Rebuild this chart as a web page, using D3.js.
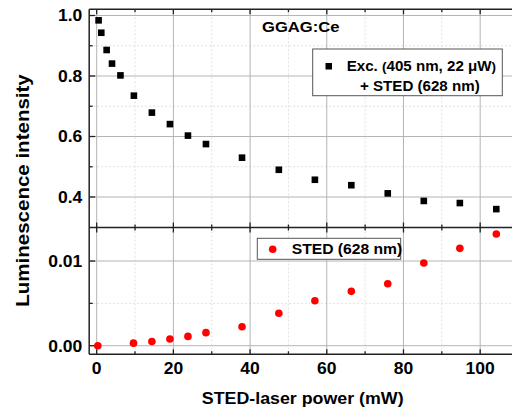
<!DOCTYPE html>
<html><head><meta charset="utf-8">
<script src="https://cdn.jsdelivr.net/npm/d3@7"></script>
<style>
body{margin:0;background:#fff;}
text{font-family:"Liberation Sans",Arial,sans-serif;font-weight:bold;fill:#000;}
</style></head>
<body><svg id="c" width="512" height="411"></svg>
<script>
const powerTop = [0.5, 1.2, 2.6, 4.0, 6.2, 9.7, 14.4, 19.1, 23.8, 28.5, 37.9, 47.5, 56.9, 66.4, 75.9, 85.3, 94.7, 104.2];
const lumTop = [0.984, 0.943, 0.886, 0.841, 0.802, 0.735, 0.679, 0.641, 0.603, 0.575, 0.530, 0.490, 0.457, 0.439, 0.412, 0.387, 0.380, 0.360];
const powerBot = [0.3, 9.6, 14.4, 19.1, 23.8, 28.5, 37.9, 47.5, 56.9, 66.4, 75.9, 85.3, 94.7, 104.2];
const lumBot = [0.0000, 0.0003, 0.0005, 0.0008, 0.0011, 0.00154, 0.00224, 0.00383, 0.00531, 0.00642, 0.00732, 0.00977, 0.0115, 0.0132];
const xTicks = [0, 20, 40, 60, 80, 100];
const xMinor = [10, 30, 50, 70, 90, 110];
const yTopTicks = [0.4, 0.6, 0.8, 1.0];
const yTopMinor = [0.5, 0.7, 0.9];
const yBotTicks = [0.00, 0.01];
const yBotMinor = [0.005];

const SX = 1.08;
const svg = d3.select("#c");
const L = 89.2, R = 520, T = 9.3, M = 227.5, B = 354.3;
const x = d3.scaleLinear().domain([-1.95, 110.4]).range([L, L + 112.35 * 3.835]);
const yT = d3.scaleLinear().domain([0.2992, 1.0205]).range([M, T]);
const yB = d3.scaleLinear().domain([-0.001015, 0.01396]).range([B, M]);

function stext(parent, tx, ty, size, anchor, str, rot) {
  return parent.append("text")
    .attr("transform", `translate(${tx},${ty})` + (rot ? ` rotate(${rot})` : "") + ` scale(${SX},1)`)
    .attr("text-anchor", anchor || "start").attr("font-size", size).text(str);
}

function panel(y, top, bot, ticks, minor, fmt) {
  const g = svg.append("g");
  g.selectAll(".gx").data(xMinor).enter().append("line")
    .attr("x1", d => x(d)).attr("x2", d => x(d)).attr("y1", top).attr("y2", bot)
    .attr("stroke", "#d8d8d8").attr("stroke-dasharray", "2,2").attr("stroke-width", 0.8);
  g.selectAll(".gy").data(minor).enter().append("line")
    .attr("x1", L).attr("x2", R).attr("y1", d => y(d)).attr("y2", d => y(d))
    .attr("stroke", "#d8d8d8").attr("stroke-dasharray", "2,2").attr("stroke-width", 0.8);
  g.selectAll(".Gx").data(xTicks).enter().append("line")
    .attr("x1", d => x(d)).attr("x2", d => x(d)).attr("y1", top).attr("y2", bot)
    .attr("stroke", "#b4b4b4").attr("stroke-width", 1);
  g.selectAll(".Gy").data(ticks).enter().append("line")
    .attr("x1", L).attr("x2", R).attr("y1", d => y(d)).attr("y2", d => y(d))
    .attr("stroke", "#b4b4b4").attr("stroke-width", 1);
  const tk = (vals, len) => {
    vals.forEach(v => {
      g.append("line").attr("x1", x(v)).attr("x2", x(v)).attr("y1", top).attr("y2", top + len).attr("stroke", "#222").attr("stroke-width", 1.3);
      g.append("line").attr("x1", x(v)).attr("x2", x(v)).attr("y1", bot).attr("y2", bot - len).attr("stroke", "#222").attr("stroke-width", 1.3);
    });
  };
  tk(xTicks, 5); tk(xMinor, 3);
  ticks.forEach(v => g.append("line").attr("x1", L).attr("x2", L + 6).attr("y1", y(v)).attr("y2", y(v)).attr("stroke", "#222").attr("stroke-width", 1.3));
  minor.forEach(v => g.append("line").attr("x1", L).attr("x2", L + 3.5).attr("y1", y(v)).attr("y2", y(v)).attr("stroke", "#222").attr("stroke-width", 1.3));
  ticks.forEach(v => stext(g, 82.3, y(v) + 5.8, 16.2, "end", fmt(v)));
  return g;
}
panel(yT, T, M, yTopTicks, yTopMinor, d3.format(".1f"));
panel(yB, M, B, yBotTicks, yBotMinor, d3.format(".2f"));

[T, M, B].forEach(yy => svg.append("line").attr("x1", L).attr("x2", R).attr("y1", yy).attr("y2", yy).attr("stroke", "#222").attr("stroke-width", 1.5));
svg.append("line").attr("x1", L).attr("x2", L).attr("y1", T).attr("y2", B).attr("stroke", "#222").attr("stroke-width", 1.5);

xTicks.forEach(v => stext(svg, x(v), 374.3, 16.2, "middle", String(v)));

const topData = powerTop.map((p, i) => ({p, v: lumTop[i]}));
const botData = powerBot.map((p, i) => ({p, v: lumBot[i]}));
svg.selectAll(".sq").data(topData).enter().append("rect")
  .attr("x", d => x(d.p) - 3.3).attr("y", d => yT(d.v) - 3.3).attr("width", 6.6).attr("height", 6.6).attr("fill", "#000");
svg.selectAll(".ci").data(botData).enter().append("circle")
  .attr("cx", d => x(d.p)).attr("cy", d => yB(d.v)).attr("r", 3.8).attr("fill", "#ff0000");

stext(svg, 262, 32.3, 15.4, "start", "GGAG:Ce");

// legend top
svg.append("rect").attr("x", 312.7).attr("y", 49).attr("width", 189.6).attr("height", 46.7)
  .attr("fill", "#fff").attr("stroke", "#555").attr("stroke-width", 1);
svg.append("rect").attr("x", 325.5).attr("y", 63).attr("width", 6.5).attr("height", 6.5).attr("fill", "#000");
const lt = stext(svg, 346.7, 70.7, 14, "start", null);
lt.append("tspan").text("Exc. ");
lt.append("tspan").attr("font-size", 12.5).text("(");
lt.append("tspan").text("405 nm, 22 μW");
lt.append("tspan").attr("font-size", 12.5).text(")");
stext(svg, 360, 91, 14, "start", "+ STED (628 nm)");

// legend bottom
svg.append("rect").attr("x", 257.3).attr("y", 238.3).attr("width", 143.4).attr("height", 21)
  .attr("fill", "#fff").attr("stroke", "#555").attr("stroke-width", 1);
svg.append("circle").attr("cx", 272.7).attr("cy", 249.3).attr("r", 3.8).attr("fill", "#ff0000");
stext(svg, 291.7, 254.3, 14.5, "start", "STED (628 nm)");

// axis titles
stext(svg, 28.5, 190.5, 19, "middle", "Luminescence intensity", -90);
stext(svg, 302.7, 404.3, 16.5, "middle", "STED-laser power (mW)");
</script></body></html>
